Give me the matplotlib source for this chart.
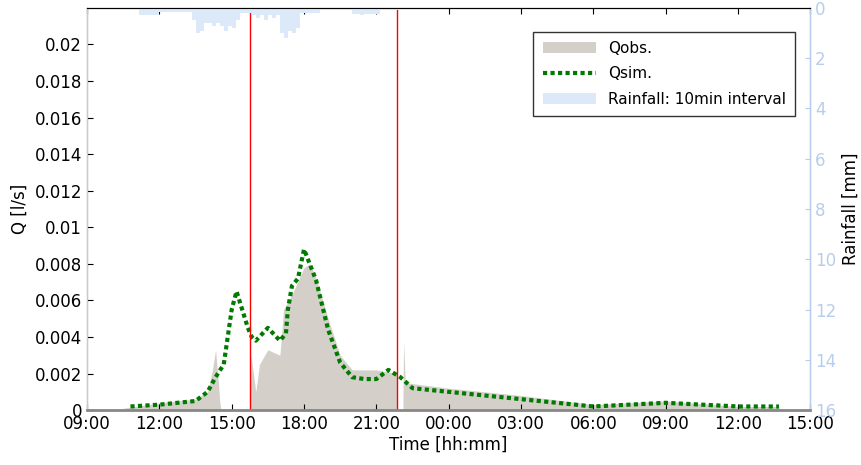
import numpy as np
import matplotlib.pyplot as plt

# hours since 09:00 of day 1
obs_t = [1.5, 3.0, 4.5, 5.0, 5.2, 5.33, 5.45, 5.5, 5.55, 6.76, 6.8, 7.0, 7.15, 7.5, 8.0, 8.15, 8.5,
         9.0, 9.25, 9.5, 10.0, 10.5, 11.0, 12.0, 12.85, 12.87, 13.1, 13.13, 13.2, 15.0, 18.0, 21.0,
         24.0, 27.0, 28.7]
obs_q = [0.0001, 0.0004, 0.0006, 0.001, 0.0022, 0.0033, 0.0015, 0.0005, 0.0, 0.0, 0.003, 0.0010,
         0.0025, 0.0033, 0.0030, 0.0055, 0.0063, 0.0078, 0.0080, 0.0072, 0.005, 0.003, 0.0022,
         0.0022, 0.002, 0.0, 0.0, 0.0038, 0.0015, 0.0012, 0.0008, 0.0003, 0.0005, 0.0002, 0.0002]

sim_t = [1.8, 3.0, 4.5, 5.0, 5.33, 5.67, 6.0, 6.2, 6.67, 6.83, 7.0, 7.5, 8.0, 8.25, 8.33, 8.5,
         8.75, 9.0, 9.5, 10.0, 10.5, 11.0, 11.5, 12.0, 12.5, 13.0, 13.5, 15.0, 18.0, 21.0, 24.0,
         27.0, 28.7]
sim_q = [0.0002, 0.0003, 0.0005, 0.001, 0.0018, 0.0025, 0.0055, 0.0065, 0.0045, 0.0040, 0.0038,
         0.0045, 0.0038, 0.0042, 0.0055, 0.0068, 0.0072, 0.0088, 0.0071, 0.0044, 0.0026, 0.0018,
         0.0017, 0.0017, 0.0022, 0.0018, 0.0012, 0.0010, 0.0006, 0.0002, 0.0004, 0.0002, 0.0002]

# rainfall, 10 min steps starting at 11:00 (hour 2.0)
rain_start = 2.0
rain_mm = [0.0, 0.3, 0.3, 0.3, 0.3, 0.3,
           0.15, 0.15, 0.15, 0.15, 0.15, 0.15, 0.15, 0.15,
           0.5, 1.0, 0.9, 0.6, 0.6, 0.7, 0.6,
           0.7, 0.9, 0.7, 0.8, 0.5, 0.2, 0.2, 0.2,
           0.3, 0.4, 0.3, 0.5, 0.3, 0.4, 0.3,
           1.0, 1.2, 0.9, 1.0, 0.8,
           0.2, 0.2, 0.2, 0.2, 0.2,
           0.1, 0.1, 0.1, 0.1, 0.1, 0.1, 0.1, 0.1,
           0.25, 0.25, 0.3, 0.25, 0.25, 0.25, 0.25,
           0.1, 0.1, 0.1, 0.1, 0.1,
           0.05, 0.05, 0.05, 0.05, 0.05]

events = [6.77, 12.87]
tick_labels = ['09:00', '12:00', '15:00', '18:00', '21:00', '00:00', '03:00', '06:00',
               '09:00', '12:00', '15:00']

fig, ax = plt.subplots(figsize=(8.62, 4.65), dpi=100)
fig.subplots_adjust(left=0.101, right=0.94, top=0.983, bottom=0.118)

ax.fill_between(obs_t, obs_q, color='#d4cfc9', lw=0, label='Qobs.')
ax.plot(sim_t, sim_q, color='#007a00', ls=(0, (1, 0.8)), lw=3, label='Qsim.')
for e in events:
    ax.axvline(e, color='red', lw=1)

ax.set_xlim(0, 30)
ax.set_ylim(0, 0.022)
ax.set_xticks(np.arange(0, 31, 3))
ax.set_xticklabels(tick_labels, fontsize=12)
ax.set_yticks(np.arange(0, 0.0201, 0.002))
ax.set_yticklabels(['0'] + ['%g' % v for v in np.arange(0.002, 0.0201, 0.002)], fontsize=12)
ax.set_xlabel('Time [hh:mm]', fontsize=12, labelpad=2)
ax.set_ylabel('Q [l/s]', fontsize=12)
ax.tick_params(direction='in', top=True, length=4)

ax2 = ax.twinx()
rain_t = rain_start + np.arange(len(rain_mm)) / 6.0
ax2.bar(rain_t, rain_mm, width=1 / 6.0, align='edge', color='#dce9f8', lw=0,
        label='Rainfall: 10min interval')
ax2.set_ylim(16, 0)
ax2.set_yticks(np.arange(0, 17, 2))
ax2.tick_params(colors='#b8cdee', labelsize=12, direction='in')
ax2.set_ylabel('Rainfall [mm]', fontsize=12, color='black')
for s in ['left', 'right']:
    ax2.spines[s].set_color('#b8cdee')
ax2.spines['bottom'].set_color('#888888')
ax2.spines['bottom'].set_linewidth(2)

h1, l1 = ax.get_legend_handles_labels()
h2, l2 = ax2.get_legend_handles_labels()
ax2.legend(h1 + h2, l1 + l2, loc='upper right', fontsize=11, fancybox=False,
           edgecolor='black', bbox_to_anchor=(0.99, 0.96), handlelength=3.5,
           labelspacing=0.7, borderpad=0.6)

fig.savefig('out.png')
